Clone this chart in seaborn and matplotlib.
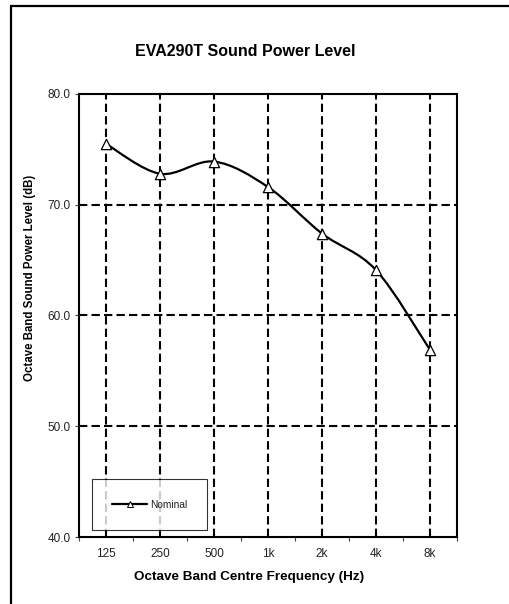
import numpy as np
import matplotlib
matplotlib.use("Agg")
import matplotlib.pyplot as plt
from matplotlib.path import Path
from matplotlib.patches import PathPatch, Rectangle
from matplotlib.lines import Line2D
import seaborn as sns
import pandas as pd

# =========================
# Data
# =========================
bands = ["125", "250", "500", "1k", "2k", "4k", "8k"]
nominal = [75.5, 72.8, 73.9, 71.6, 67.4, 64.1, 56.9]
y_ticks = [40, 50, 60, 70, 80]

df = pd.DataFrame({"band": bands, "level": nominal})
df["pos"] = np.arange(len(bands))

sns.set_theme(style="white")
plt.rcParams["font.family"] = ["Liberation Sans", "DejaVu Sans"]
plt.rcParams["text.color"] = "black"

fig = plt.figure(figsize=(5.09, 6.04), dpi=100)
ax = fig.add_axes([79 / 509, 67 / 604, 378 / 509, 443 / 604])

# smoothed line (Excel style) as a Bezier path through the data points
xs = df["pos"].to_numpy(dtype=float)
ys = df["level"].to_numpy(dtype=float)
pts = np.column_stack([xs, ys])
ext = np.vstack([pts[0], pts, pts[-1]])
verts = [tuple(pts[0])]
codes = [Path.MOVETO]
for i in range(len(pts) - 1):
    p0, p1, p2, p3 = ext[i], ext[i + 1], ext[i + 2], ext[i + 3]
    c1 = p1 + (p2 - p0) / 6
    c2 = p2 - (p3 - p1) / 6
    verts += [tuple(c1), tuple(c2), tuple(p2)]
    codes += [Path.CURVE4] * 3
ax.add_patch(PathPatch(Path(verts, codes), facecolor="none", edgecolor="black",
                       lw=1.6, zorder=3))

sns.scatterplot(data=df, x="pos", y="level", marker="^", s=55, color="white",
                edgecolor="black", linewidth=0.9, zorder=4, ax=ax, legend=False)

ax.set_xlim(-0.5, len(bands) - 0.5)
ax.set_ylim(40, 80)
ax.set_xticks(df["pos"])
ax.set_xticklabels(bands)
ax.set_xticks(np.arange(-0.5, len(bands)), minor=True)
ax.set_yticks(y_ticks)
ax.set_yticklabels([f"{v:.1f}" for v in y_ticks])

ax.tick_params(axis="x", which="major", length=0, pad=8, labelsize=8.5, labelcolor="#222222")
ax.tick_params(axis="x", which="minor", length=3, width=0.8, direction="out",
               color="#444444", bottom=True)
ax.tick_params(axis="y", which="major", length=3, width=0.8, direction="out",
               pad=3, labelsize=8.5, color="#444444", labelcolor="#222222", left=True)

dash = (0, (4, 2))
ax.grid(True, axis="x", which="major", color="black", lw=1.5, linestyle=dash)
for v in y_ticks[1:-1]:
    ax.axhline(v, color="black", lw=1.5, linestyle=dash, zorder=1)
ax.set_axisbelow(True)

for s in ax.spines.values():
    s.set_visible(True)
    s.set_color("black")
    s.set_linewidth(1.5)

ax.set_xlabel("")
ax.set_ylabel("")

handle = Line2D([], [], color="black", lw=1.6, marker="^", markersize=4,
                markerfacecolor="white", markeredgecolor="black", markeredgewidth=0.7)
leg = ax.legend([handle], ["Nominal"], loc="lower left",
                bbox_to_anchor=(13 / 378, 7 / 443), borderaxespad=0,
                fontsize=7.3, frameon=True, fancybox=False, handlelength=3.4,
                handletextpad=0.3, borderpad=2.0, labelcolor="#222222")
leg.get_frame().set_edgecolor("black")
leg.get_frame().set_linewidth(0.8)

fig.text(245 / 509, 1 - 51 / 604, "EVA290T Sound Power Level", ha="center",
         va="center", fontsize=11.5, fontweight="bold", color="black")
fig.text(249 / 509, 1 - 577 / 604, "Octave Band Centre Frequency (Hz)", ha="center",
         va="center", fontsize=9.7, fontweight="bold", color="black")
fig.text(30 / 509, 1 - 278 / 604, "Octave Band Sound Power Level (dB)", ha="center",
         va="center", rotation=90, fontsize=8.3, fontweight="bold", color="black")

fig.patches.append(Rectangle((11 / 509, -0.1), 1.2, 1.1 - 6 / 604, transform=fig.transFigure,
                             fill=False, edgecolor="black", lw=1.6))

fig.savefig("out.png", dpi=100)
